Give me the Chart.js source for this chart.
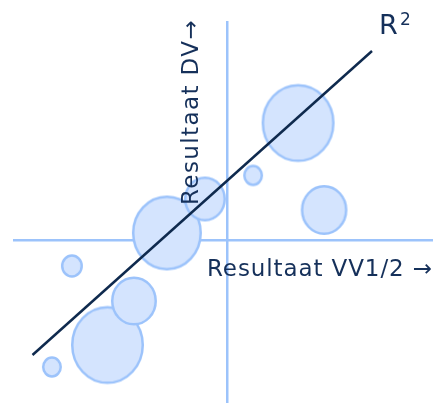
<!DOCTYPE html>
<html>
<head>
<meta charset="utf-8">
<script src="https://cdn.jsdelivr.net/npm/chart.js@4/dist/chart.umd.min.js"></script>
<style>
  html, body { margin: 0; padding: 0; background: #ffffff; }
  #wrap { width: 433px; height: 403px; }
</style>
</head>
<body>
<div id="wrap"><canvas id="c" width="433" height="403"></canvas></div>
<script>
// ---- data (arbitrary units) ----
const bubbleX = [-8.78, -7.78, -6.0, -4.68, -3.03, -1.13, 1.28, 3.53, 4.83];
const bubbleY = [-6.35, -1.3, -5.25, -3.05, 0.35, 2.05, 3.23, 5.85, 1.5];
const bubbleR = [10, 11, 36.5, 23, 35, 21, 10, 36.5, 23.3];
const trendX = [-9.75, 7.225];
const trendY = [-5.75, 9.45];
const xLabel = 'Resultaat VV1/2 →';
const yLabel = 'Resultaat DV→';
const fitLabel = 'R';
const fitSup = '2';

const FILL = '#d4e4fe';
const EDGE = '#9cc3fb';
const NAVY = '#0f2a4e';
const TEXT = '#15305a';

const ellipseCache = {};
function ellipseImage(r) {
  const key = String(r);
  if (ellipseCache[key]) return ellipseCache[key];
  const bw = 2.5, stretch = 1.07;
  const rx = r, ry = r * stretch;
  const c = document.createElement('canvas');
  c.width = Math.ceil(2 * rx + 4);
  c.height = Math.ceil(2 * ry + 4);
  const g = c.getContext('2d');
  g.beginPath();
  g.ellipse(c.width / 2, c.height / 2, rx - bw / 2, ry - bw / 2, 0, 0, Math.PI * 2);
  g.fillStyle = FILL;
  g.fill();
  g.lineWidth = bw;
  g.strokeStyle = EDGE;
  g.stroke();
  ellipseCache[key] = c;
  return c;
}

const bubbles = bubbleX.map((x, i) => ({ x: x, y: bubbleY[i], r: bubbleR[i] }));
const trend = trendX.map((x, i) => ({ x: x, y: trendY[i] }));

const labelsPlugin = {
  id: 'labels',
  afterDraw(chart) {
    const ctx = chart.ctx;
    ctx.save();
    ctx.fillStyle = TEXT;
    ctx.textBaseline = 'alphabetic';
    ctx.textAlign = 'left';
    ctx.font = '23px "DejaVu Sans"';
    ctx.letterSpacing = '0.9px';
    ctx.fillText(xLabel, 207, 276);
    ctx.save();
    ctx.translate(198, 205);
    ctx.rotate(-Math.PI / 2);
    ctx.letterSpacing = '1.4px';
    ctx.fillText(yLabel, 0, 0);
    ctx.restore();
    ctx.letterSpacing = '0px';
    ctx.font = '27px "DejaVu Sans"';
    ctx.fillText(fitLabel, 379, 34);
    ctx.font = '17px "DejaVu Sans"';
    ctx.fillText(fitSup, 400, 25);
    ctx.restore();
  }
};

new Chart(document.getElementById('c'), {
  type: 'bubble',
  data: {
    datasets: [
      {
        type: 'line',
        data: trend,
        borderColor: NAVY,
        borderWidth: 2.5,
        pointRadius: 0,
        fill: false,
        order: 0
      },
      {
        type: 'bubble',
        data: bubbles,
        backgroundColor: FILL,
        borderColor: EDGE,
        borderWidth: 2.5,
        pointStyle: (c) => c.raw ? ellipseImage(c.raw.r) : 'circle',
        order: 1
      }
    ]
  },
  options: {
    responsive: false,
    devicePixelRatio: 1,
    animation: false,
    layout: { autoPadding: false, padding: { left: 14, top: 22, right: 0, bottom: 0 } },
    plugins: { legend: { display: false }, tooltip: { enabled: false } },
    scales: {
      x: {
        type: 'linear',
        min: -10.675, max: 10.275,
        position: { y: 0 },
        grid: { display: false, drawTicks: false },
        ticks: { display: false },
        border: { display: true, color: EDGE, width: 2.5 }
      },
      y: {
        type: 'linear',
        min: -8.15, max: 10.9,
        position: { x: 0 },
        grid: { display: false, drawTicks: false },
        ticks: { display: false },
        border: { display: true, color: EDGE, width: 2.5 }
      }
    }
  },
  plugins: [labelsPlugin]
});
</script>
</body>
</html>
